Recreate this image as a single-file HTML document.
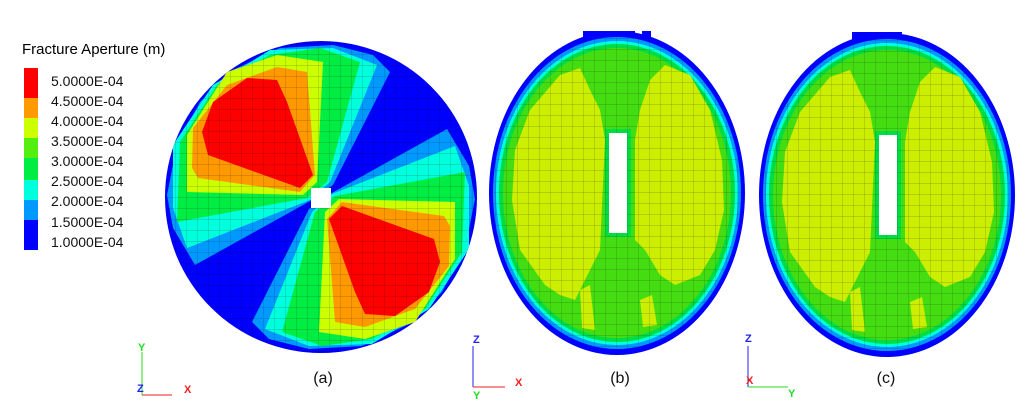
<!DOCTYPE html>
<html><head><meta charset="utf-8"><style>
body{margin:0;background:#fff;width:1024px;height:411px;overflow:hidden;font-family:"Liberation Sans",sans-serif}
svg text{font-family:"Liberation Sans",sans-serif}
</style></head><body>
<svg width="1024" height="411" viewBox="0 0 1024 411" xmlns="http://www.w3.org/2000/svg">
<defs>
<pattern id="grid" width="11" height="11" patternUnits="userSpaceOnUse">
<path d="M11 0V11M0 11H11" stroke="rgba(0,0,0,0.35)" stroke-width="0.7" fill="none"/>
</pattern>
<clipPath id="ca"><circle cx="321" cy="197" r="156"/></clipPath>
<clipPath id="ce"><ellipse cx="0" cy="0" rx="124" ry="156"/></clipPath>
<g id="lobe">
<polygon fill="#0099ff" points="333,185 390,72 373,55 333,45 280,48 233,70 200,102 177,145 167,195 173,228 195,265 312,200"/>
<polygon fill="#00ffdd" points="330,182 377,65 333,48 270,50 213,85 173,145 173,208 187,248 310,200"/>
<polygon fill="#00ee44" points="327,182 360,62 320,48 270,55 217,85 180,142 177,222 307,198"/>
<polygon fill="#ccff00" points="317,182 323,62 277,55 227,72 187,135 187,192 303,195"/>
<polygon fill="#ff9900" points="315,175 307,72 277,67 227,85 193,128 192,168 198,178 300,192"/>
<polygon fill="#ff0000" points="313,175 287,102 277,80 247,78 213,102 202,132 208,155 300,188"/>
</g>
<g id="ell">
<ellipse cx="0" cy="0" rx="128" ry="162" fill="#0000ff"/>
<ellipse cx="0" cy="0" rx="124" ry="156" fill="#0099ff"/>
<ellipse cx="0" cy="0" rx="121" ry="152" fill="#00ffdd"/>
<ellipse cx="0" cy="0" rx="118" ry="149" fill="#00dd44"/>
<ellipse cx="0" cy="0" rx="114" ry="145" fill="#44dd11"/>
<polygon fill="#ccee00" points="-105,7 -102,-43 -87,-83 -57,-118 -37,-125 -27,-103 -17,-83 -12,-53 -17,57 -27,77 -42,107 -57,102 -72,92 -97,57"/>
<polygon fill="#ccee00" points="18,-53 23,-83 33,-113 48,-128 73,-118 93,-83 105,-33 107,17 98,57 83,82 58,92 43,82 28,57 18,47"/>
<polygon fill="#ccee00" points="-37,97 -27,92 -22,137 -35,135"/>
<polygon fill="#ccee00" points="23,107 35,102 40,132 26,134"/>
<rect x="-12" y="-64" width="26" height="108" fill="#00dd44"/>
<rect x="-128" y="-162" width="256" height="324" fill="url(#grid)" clip-path="url(#ce)"/>
<rect x="-8" y="-60" width="18" height="100" fill="#fff"/>
</g>
</defs>
<!-- legend -->
<text x="22" y="54" font-size="15">Fracture Aperture (m)</text>
<rect x="24" y="68" width="14" height="30" fill="#ff0000"/>
<rect x="24" y="98" width="14" height="20" fill="#ff9900"/>
<rect x="24" y="118" width="14" height="20" fill="#ccff00"/>
<rect x="24" y="138" width="14" height="20" fill="#55ee11"/>
<rect x="24" y="158" width="14" height="22" fill="#00ee44"/>
<rect x="24" y="180" width="14" height="20" fill="#00ffdd"/>
<rect x="24" y="200" width="14" height="20" fill="#0099ff"/>
<rect x="24" y="220" width="14" height="30" fill="#0000ff"/>
<g font-size="14" fill="#111">
<text x="51" y="86">5.0000E-04</text><text x="51" y="106">4.5000E-04</text>
<text x="51" y="126">4.0000E-04</text><text x="51" y="146">3.5000E-04</text>
<text x="51" y="166">3.0000E-04</text><text x="51" y="186">2.5000E-04</text>
<text x="51" y="206">2.0000E-04</text><text x="51" y="227">1.5000E-04</text>
<text x="51" y="247">1.0000E-04</text>
</g>
<!-- panel a -->
<circle cx="321" cy="197" r="156" fill="#0000ff"/>
<g clip-path="url(#ca)">
<use href="#lobe"/>
<use href="#lobe" transform="rotate(180 321 197)"/>
<rect x="160" y="38" width="325" height="320" fill="url(#grid)"/>
</g>
<rect x="311" y="188" width="20" height="20" fill="#fff"/>
<!-- panel b -->
<rect x="583" y="31" width="52" height="17" fill="#0000ff"/>
<rect x="642" y="31" width="9" height="17" fill="#0000ff"/>
<use href="#ell" transform="translate(617 193)"/>
<!-- panel c -->
<rect x="852" y="32" width="50" height="16" fill="#0000ff"/>
<use href="#ell" transform="translate(887 195)"/>
<!-- labels -->
<g font-size="16" fill="#111" text-anchor="middle">
<text x="323" y="383">(a)</text><text x="620" y="383">(b)</text><text x="886" y="383">(c)</text>
</g>
<g font-size="11" font-weight="bold">
<line x1="142" y1="352" x2="142" y2="395" stroke="#22dd22"/>
<line x1="142" y1="395" x2="172" y2="395" stroke="#ee2222"/>
<text x="138" y="351" fill="#22dd22">Y</text>
<text x="137" y="392" fill="#2222ee">Z</text>
<text x="184" y="393" fill="#ee2222">X</text>
<line x1="473" y1="346" x2="473" y2="387" stroke="#2222ee"/>
<line x1="473" y1="387" x2="505" y2="387" stroke="#ee2222"/>
<text x="473" y="343" fill="#2222ee">Z</text>
<text x="515" y="386" fill="#ee2222">X</text>
<text x="473" y="399" fill="#22dd22">Y</text>
<line x1="748" y1="346" x2="748" y2="387" stroke="#2222ee"/>
<line x1="748" y1="387" x2="788" y2="387" stroke="#22dd22"/>
<text x="745" y="342" fill="#2222ee">Z</text>
<text x="746" y="384" fill="#ee2222">X</text>
<text x="788" y="397" fill="#22dd22">Y</text>
</g>
</svg>
</body></html>
